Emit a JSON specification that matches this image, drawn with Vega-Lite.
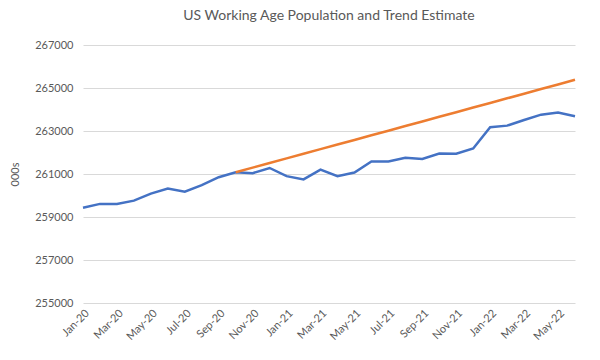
{
  "$schema": "https://vega.github.io/schema/vega-lite/v6.json",
  "width": 492,
  "height": 258,
  "autosize": {"type": "none"},
  "padding": {"left": 83, "top": 45, "right": 25, "bottom": 57},
  "background": "white",
  "title": {"text": "US Working Age Population and Trend Estimate", "font": "Lato", "fontSize": 14, "fontWeight": "normal", "color": "#595959", "offset": 16, "anchor": "middle"},
  "config": {"view": {"stroke": null}, "font": "Lato"},
  "data": {"values": [
    {"month": "Jan-20", "series": "Actual", "value": 259430},
    {"month": "Feb-20", "series": "Actual", "value": 259610},
    {"month": "Mar-20", "series": "Actual", "value": 259610},
    {"month": "Apr-20", "series": "Actual", "value": 259760},
    {"month": "May-20", "series": "Actual", "value": 260090},
    {"month": "Jun-20", "series": "Actual", "value": 260320},
    {"month": "Jul-20", "series": "Actual", "value": 260180},
    {"month": "Aug-20", "series": "Actual", "value": 260480},
    {"month": "Sep-20", "series": "Actual", "value": 260850},
    {"month": "Oct-20", "series": "Actual", "value": 261080},
    {"month": "Nov-20", "series": "Actual", "value": 261040},
    {"month": "Dec-20", "series": "Actual", "value": 261280},
    {"month": "Jan-21", "series": "Actual", "value": 260900},
    {"month": "Feb-21", "series": "Actual", "value": 260750},
    {"month": "Mar-21", "series": "Actual", "value": 261200},
    {"month": "Apr-21", "series": "Actual", "value": 260900},
    {"month": "May-21", "series": "Actual", "value": 261070},
    {"month": "Jun-21", "series": "Actual", "value": 261580},
    {"month": "Jul-21", "series": "Actual", "value": 261580},
    {"month": "Aug-21", "series": "Actual", "value": 261760},
    {"month": "Sep-21", "series": "Actual", "value": 261700},
    {"month": "Oct-21", "series": "Actual", "value": 261950},
    {"month": "Nov-21", "series": "Actual", "value": 261940},
    {"month": "Dec-21", "series": "Actual", "value": 262190},
    {"month": "Jan-22", "series": "Actual", "value": 263180},
    {"month": "Feb-22", "series": "Actual", "value": 263250},
    {"month": "Mar-22", "series": "Actual", "value": 263510},
    {"month": "Apr-22", "series": "Actual", "value": 263760},
    {"month": "May-22", "series": "Actual", "value": 263860},
    {"month": "Jun-22", "series": "Actual", "value": 263690},
    {"month": "Oct-20", "series": "Trend", "value": 261080},
    {"month": "Nov-20", "series": "Trend", "value": 261295},
    {"month": "Dec-20", "series": "Trend", "value": 261510},
    {"month": "Jan-21", "series": "Trend", "value": 261725},
    {"month": "Feb-21", "series": "Trend", "value": 261940},
    {"month": "Mar-21", "series": "Trend", "value": 262155},
    {"month": "Apr-21", "series": "Trend", "value": 262370},
    {"month": "May-21", "series": "Trend", "value": 262585},
    {"month": "Jun-21", "series": "Trend", "value": 262800},
    {"month": "Jul-21", "series": "Trend", "value": 263015},
    {"month": "Aug-21", "series": "Trend", "value": 263230},
    {"month": "Sep-21", "series": "Trend", "value": 263445},
    {"month": "Oct-21", "series": "Trend", "value": 263660},
    {"month": "Nov-21", "series": "Trend", "value": 263875},
    {"month": "Dec-21", "series": "Trend", "value": 264090},
    {"month": "Jan-22", "series": "Trend", "value": 264305},
    {"month": "Feb-22", "series": "Trend", "value": 264520},
    {"month": "Mar-22", "series": "Trend", "value": 264735},
    {"month": "Apr-22", "series": "Trend", "value": 264950},
    {"month": "May-22", "series": "Trend", "value": 265165},
    {"month": "Jun-22", "series": "Trend", "value": 265380}
  ]},
  "mark": {"type": "line", "strokeWidth": 2.5},
  "encoding": {
    "x": {
      "field": "month", "type": "ordinal", "sort": null,
      "scale": {"type": "point", "padding": 0},
      "axis": {
        "title": null, "labelAngle": -45, "labelAlign": "right", "labelBaseline": "top",
        "labelExpr": "indexof(['Jan','Mar','May','Jul','Sep','Nov'], substring(datum.value,0,3)) >= 0 ? datum.value : ''",
        "labelFont": "Lato", "labelFontSize": 11, "labelColor": "#595959", "labelPadding": 4,
        "ticks": false, "domain": false, "grid": false, "labelOverlap": false
      }
    },
    "y": {
      "field": "value", "type": "quantitative",
      "scale": {"domain": [255000, 267000], "zero": false, "nice": false},
      "axis": {
        "title": "000s", "titleFont": "Lato", "titleFontSize": 11, "titleFontWeight": "normal", "titleColor": "#595959", "titlePadding": 14,
        "values": [255000, 257000, 259000, 261000, 263000, 265000, 267000],
        "format": "d", "labelFont": "Lato", "labelFontSize": 11, "labelColor": "#595959", "labelPadding": 10,
        "ticks": false, "domain": false, "grid": true, "gridColor": "#D9D9D9", "gridWidth": 1
      }
    },
    "color": {
      "field": "series", "type": "nominal",
      "scale": {"domain": ["Actual", "Trend"], "range": ["#4472C4", "#ED7D31"]},
      "legend": null
    }
  }
}
